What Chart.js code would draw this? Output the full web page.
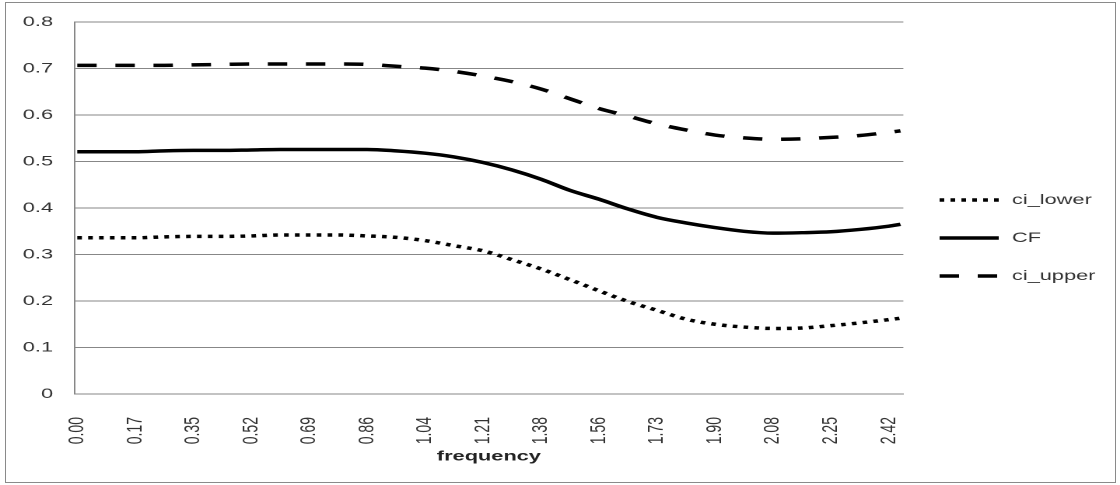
<!DOCTYPE html>
<html>
<head>
<meta charset="utf-8">
<script src="https://cdn.jsdelivr.net/npm/chart.js@4/dist/chart.umd.min.js"></script>
<style>
  html, body { margin: 0; padding: 0; background: #fff; }
  #frame { position: absolute; left: 5px; top: 2px; width: 1111px; height: 481px; border: 1px solid #8a8a8a; box-sizing: border-box; }
  /* the original picture is stretched sideways, so draw narrow and widen */
  #wrap { position: absolute; left: 0; top: 0; width: 720px; height: 485px; transform: scaleX(1.5556); transform-origin: 0 0; }
</style>
</head>
<body>
<div id="frame"></div>
<div id="wrap"><canvas id="chart" width="720" height="485" style="width:720px;height:485px"></canvas></div>
<script>
// frequency of each sampled point (every 5th category)
var freq = [0, 0.0865, 0.1730, 0.2594, 0.3459, 0.4324, 0.5189, 0.6053, 0.6918, 0.7783,
            0.8648, 0.9512, 1.0377, 1.1242, 1.2107, 1.2971, 1.3836, 1.4701, 1.5566, 1.6430,
            1.7295, 1.8160, 1.9025, 1.9889, 2.0754, 2.1619, 2.2484, 2.3348, 2.4213, 2.4559];

var ciLower = [0.336, 0.336, 0.336, 0.338, 0.339, 0.339, 0.340, 0.342, 0.342, 0.342,
               0.340, 0.337, 0.330, 0.319, 0.308, 0.289, 0.269, 0.246, 0.222, 0.199,
               0.180, 0.161, 0.150, 0.144, 0.141, 0.142, 0.147, 0.153, 0.160, 0.163];

var cf = [0.521, 0.521, 0.521, 0.523, 0.524, 0.524, 0.525, 0.526, 0.526, 0.526,
          0.526, 0.523, 0.518, 0.510, 0.498, 0.482, 0.462, 0.438, 0.419, 0.398,
          0.380, 0.368, 0.358, 0.350, 0.346, 0.347, 0.349, 0.354, 0.361, 0.365];

var ciUpper = [0.707, 0.707, 0.707, 0.707, 0.708, 0.709, 0.710, 0.710, 0.710, 0.710,
               0.709, 0.705, 0.701, 0.694, 0.684, 0.672, 0.656, 0.635, 0.614, 0.598,
               0.581, 0.568, 0.557, 0.551, 0.548, 0.549, 0.552, 0.556, 0.563, 0.566];

// x tick positions and their labels
var tickPos = [0, 0.1730, 0.3459, 0.5189, 0.6918, 0.8648, 1.0377, 1.2107, 1.3836,
               1.5566, 1.7295, 1.9025, 2.0754, 2.2484, 2.4213];
var tickLabels = ["0.00", "0.17", "0.35", "0.52", "0.69", "0.86", "1.04", "1.21",
                  "1.38", "1.56", "1.73", "1.90", "2.08", "2.25", "2.42"];

var FONT = '"Liberation Sans", Arial, sans-serif';
var GRID = '#878787';

var pts = function (ys) {
  return freq.map(function (f, i) { return { x: f, y: ys[i] }; });
};

var sideLegend = {
  id: 'sideLegend',
  afterDraw: function (chart) {
    var ctx = chart.ctx;
    chart.data.datasets.forEach(function (ds, i) {
      var y = 200 + i * 38;
      ctx.save();
      ctx.strokeStyle = ds.borderColor;
      ctx.lineWidth = ds.borderWidth;
      ctx.setLineDash(ds.borderDash || []);
      ctx.beginPath();
      ctx.moveTo(604, y);
      ctx.lineTo(642, y);
      ctx.stroke();
      ctx.setLineDash([]);
      ctx.fillStyle = '#333';
      ctx.font = '14px ' + FONT;
      ctx.textBaseline = 'middle';
      ctx.fillText(ds.label, 650.5, y);
      ctx.restore();
    });
  }
};

var ctx = document.getElementById('chart').getContext('2d');
var myChart = new Chart(ctx, {
  type: 'line',
  data: {
    datasets: [
      { label: 'ci_lower', data: pts(ciLower), borderColor: '#000', borderWidth: 3.5, borderDash: [3, 4], borderCapStyle: 'butt' },
      { label: 'CF', data: pts(cf), borderColor: '#000', borderWidth: 3.5 },
      { label: 'ci_upper', data: pts(ciUpper), borderColor: '#000', borderWidth: 3.5, borderDash: [12.5, 12], borderCapStyle: 'butt' }
    ]
  },
  options: {
    responsive: false,
    devicePixelRatio: 2,
    animation: false,
    layout: { padding: { left: 0, right: 139.3, top: 20.7, bottom: 18 } },
    elements: {
      point: { radius: 0 },
      line: { cubicInterpolationMode: 'monotone', fill: false }
    },
    plugins: { legend: { display: false }, tooltip: { enabled: false } },
    scales: {
      x: {
        type: 'linear',
        position: 'bottom',
        min: -0.0086,
        max: 2.4645,
        grid: { display: false },
        border: { display: true, color: GRID, width: 1 },
        afterBuildTicks: function (scale) {
          scale.ticks = tickPos.map(function (v) { return { value: v }; });
        },
        afterFit: function (scale) { scale.height = 73; },
        ticks: {
          autoSkip: false,
          minRotation: 90,
          maxRotation: 90,
          padding: 15,
          color: '#333',
          font: { family: FONT, size: 14 },
          callback: function (v, i) { return tickLabels[i]; }
        },
        title: {
          display: true,
          text: 'frequency',
          color: '#222',
          font: { family: FONT, size: 14, weight: 'bold' },
          padding: { top: 0, bottom: 2 }
        }
      },
      y: {
        min: 0,
        max: 0.8,
        grid: { color: GRID, lineWidth: 1, drawTicks: false },
        border: { display: true, color: GRID, width: 1 },
        afterFit: function (scale) { scale.width = 47.8; },
        ticks: {
          stepSize: 0.1,
          padding: 13.7,
          color: '#333',
          font: { family: FONT, size: 14 }
        }
      }
    }
  },
  plugins: [sideLegend]
});
</script>
</body>
</html>
